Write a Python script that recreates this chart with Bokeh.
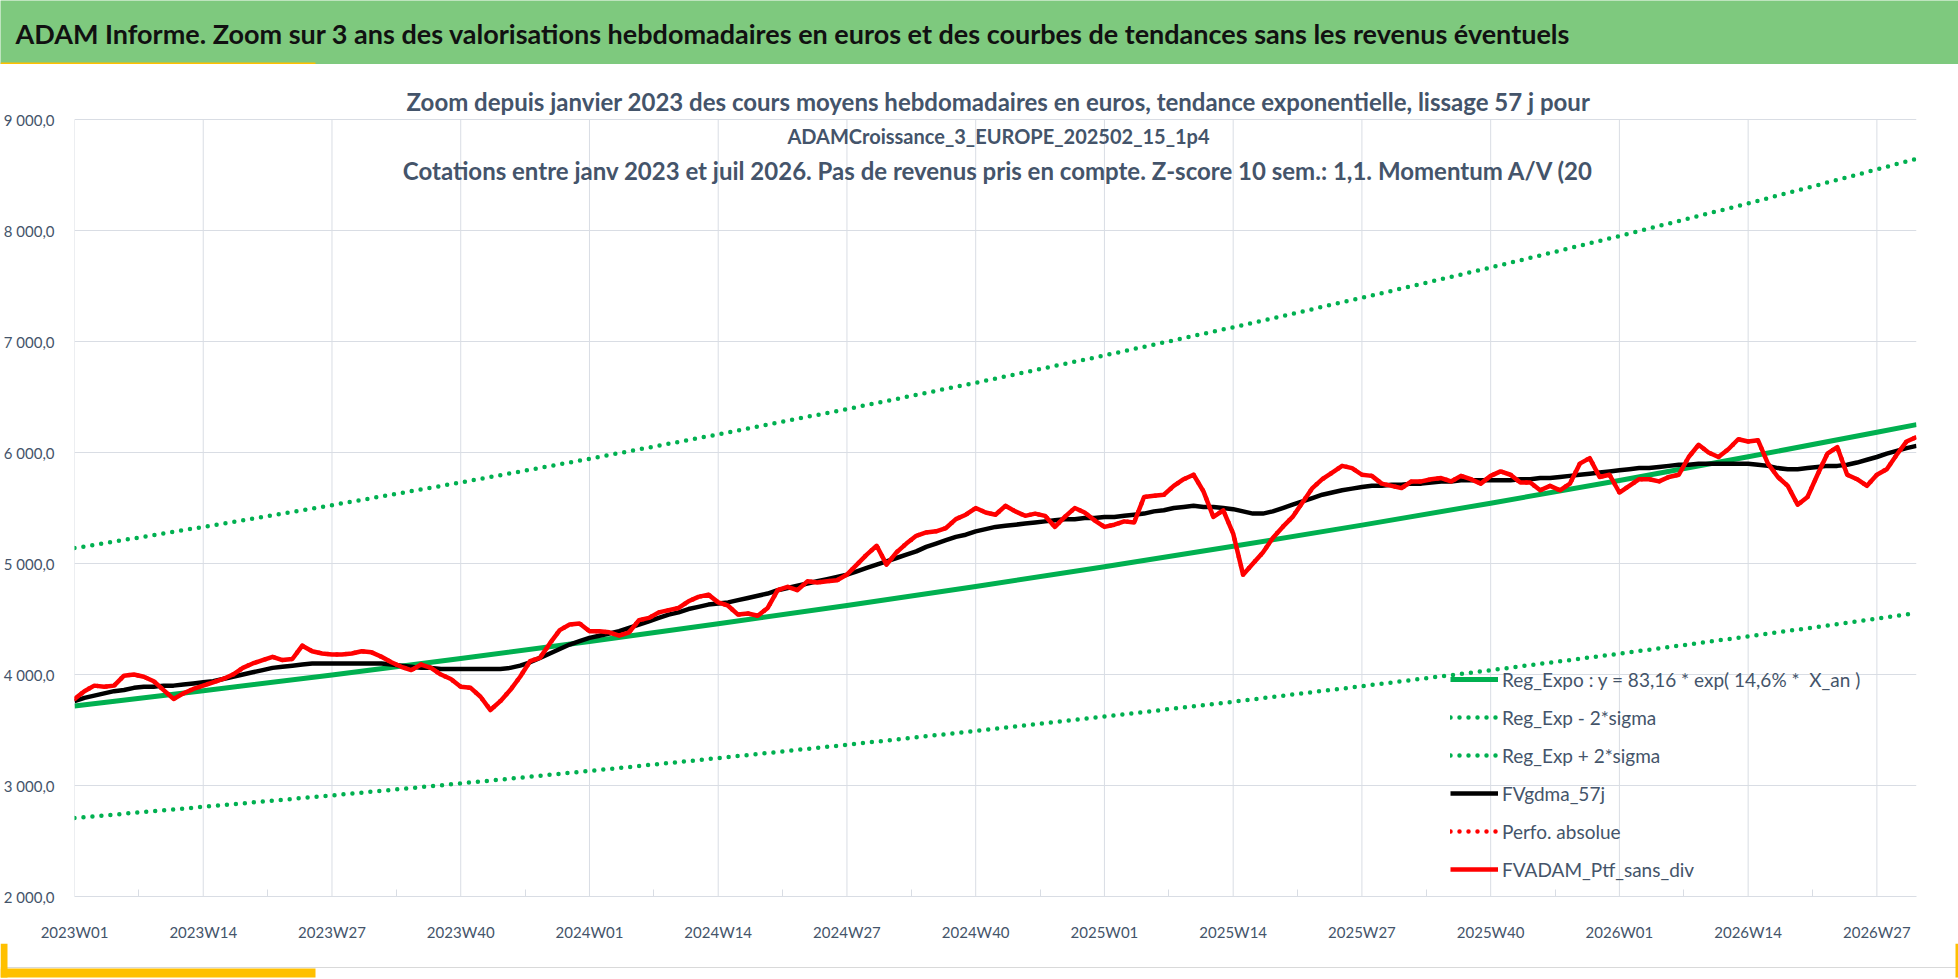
from bokeh.plotting import figure
from bokeh.models import Label, Legend, LegendItem, FixedTicker, Range1d, BoxAnnotation, Span
from bokeh.layouts import column
from bokeh.embed import file_html
from bokeh.resources import INLINE

header_text = ("ADAM Informe. Zoom sur 3 ans des valorisations hebdomadaires en euros "
               "et des courbes de tendances sans les revenus éventuels")
title_lines = [
    "Zoom depuis janvier 2023 des cours moyens hebdomadaires en euros, tendance exponentielle, lissage 57 j pour",
    "ADAMCroissance_3_EUROPE_202502_15_1p4",
    "Cotations entre janv 2023 et juil 2026. Pas de revenus pris en compte. Z-score 10 sem.: 1,1. Momentum A/V (20",
]

# categories : weekly labels
years_weeks = [(2023, 52), (2024, 52), (2025, 52), (2026, 31)]
weeks = [f"{y}W{w:02d}" for y, n in years_weeks for w in range(1, n + 1)]

tick_labels = ["2023W01", "2023W14", "2023W27", "2023W40", "2024W01", "2024W14", "2024W27",
               "2024W40", "2025W01", "2025W14", "2025W27", "2025W40", "2026W01", "2026W14", "2026W27"]
y_ticks = [2000, 3000, 4000, 5000, 6000, 7000, 8000, 9000]
y_tick_labels = ["2 000,0", "3 000,0", "4 000,0", "5 000,0", "6 000,0", "7 000,0", "8 000,0", "9 000,0"]

# trend curves read at the labelled weeks and at the last week
trend_weeks = tick_labels + ["2026W31"]
reg_expo = [3716, 3854, 3996, 4144, 4298, 4457, 4622, 4793, 4971, 5155, 5346, 5544, 5749, 5962, 6183, 6252]
reg_plus = [5139, 5330, 5526, 5731, 5944, 6164, 6392, 6629, 6875, 7129, 7394, 7667, 7951, 8245, 8551, 8647]
reg_minus = [2707, 2808, 2911, 3019, 3131, 3247, 3367, 3492, 3621, 3755, 3895, 4039, 4188, 4343, 4504, 4555]

fv_ptf = [
    3780, 3850, 3900, 3890, 3900, 3990, 4000, 3980, 3940, 3860,
    3780, 3830, 3870, 3900, 3930, 3960, 4000, 4060, 4100, 4130,
    4160, 4130, 4140, 4260, 4210, 4190, 4180, 4180, 4190, 4210,
    4200, 4160, 4110, 4070, 4040, 4090, 4060, 4000, 3960, 3890,
    3880, 3800, 3680, 3760, 3860, 3980, 4120, 4150, 4280, 4400,
    4450, 4460, 4390, 4390, 4380, 4350, 4380, 4490, 4510, 4560,
    4580, 4600, 4660, 4700, 4720, 4650, 4620, 4540, 4550, 4530,
    4600, 4760, 4790, 4760, 4840, 4830, 4840, 4850, 4900, 4990,
    5080, 5160, 4990, 5100, 5180, 5250, 5280, 5290, 5320, 5400,
    5440, 5500, 5460, 5440, 5520, 5470, 5430, 5450, 5430, 5330,
    5420, 5500, 5460, 5390, 5330, 5350, 5380, 5370, 5600, 5610,
    5620, 5700, 5760, 5800, 5650, 5420, 5480, 5270, 4900, 5000,
    5100, 5230, 5330, 5420, 5550, 5680, 5760, 5820, 5880, 5860,
    5800, 5790, 5720, 5700, 5680, 5740, 5740, 5760, 5770, 5740,
    5790, 5760, 5720, 5790, 5830, 5800, 5730, 5730, 5660, 5700,
    5660, 5720, 5900, 5950, 5780, 5800, 5640, 5700, 5760, 5760,
    5740, 5780, 5800, 5960, 6070, 6000, 5960, 6030, 6120, 6100,
    6110, 5900, 5780, 5700, 5530, 5600, 5800, 5990, 6050, 5800,
    5760, 5700, 5800, 5850, 5980, 6100, 6140,
]
fv_gdma = [
    3760, 3790, 3810, 3830, 3850, 3860, 3880, 3890, 3890, 3900,
    3900, 3910, 3920, 3930, 3940, 3960, 3980, 4000, 4020, 4040,
    4060, 4070, 4080, 4090, 4100, 4100, 4100, 4100, 4100, 4100,
    4100, 4100, 4090, 4080, 4070, 4060, 4060, 4050, 4050, 4050,
    4050, 4050, 4050, 4050, 4060, 4080, 4110, 4150, 4190, 4230,
    4270, 4300, 4330, 4350, 4370, 4390, 4420, 4450, 4480, 4510,
    4540, 4560, 4590, 4610, 4630, 4640, 4650, 4670, 4690, 4710,
    4730, 4760, 4780, 4800, 4820, 4840, 4860, 4880, 4900, 4930,
    4960, 4990, 5020, 5050, 5080, 5110, 5150, 5180, 5210, 5240,
    5260, 5290, 5310, 5330, 5340, 5350, 5360, 5370, 5380, 5390,
    5400, 5400, 5410, 5410, 5420, 5420, 5430, 5440, 5450, 5470,
    5480, 5500, 5510, 5520, 5510, 5510, 5500, 5490, 5470, 5450,
    5450, 5470, 5500, 5530, 5560, 5590, 5620, 5640, 5660, 5675,
    5690, 5700, 5700, 5710, 5710, 5720, 5720, 5730, 5740, 5740,
    5750, 5750, 5750, 5750, 5750, 5750, 5760, 5760, 5770, 5770,
    5780, 5790, 5800, 5810, 5820, 5830, 5840, 5850, 5860, 5860,
    5870, 5880, 5890, 5890, 5900, 5900, 5900, 5900, 5900, 5900,
    5890, 5880, 5860, 5850, 5850, 5860, 5870, 5880, 5880, 5890,
    5910, 5935, 5960, 5990, 6015, 6040, 6060,
]

legend_labels = ["Reg_Expo : y = 83,16 * exp( 14,6% *  X_an )", "Reg_Exp - 2*sigma", "Reg_Exp + 2*sigma",
                 "FVgdma_57j", "Perfo. absolue", "FVADAM_Ptf_sans_div"]

GREEN = "#00B050"
RED = "#FF0000"
TXT = "#44546A"
GRID = "#D9DDE4"
HEAD = "#7EC97E"
GOLD = "#FFC000"
FONT = "Lato"

n = min(len(fv_ptf), len(fv_gdma), len(weeks))
xi = list(range(n))
tx = [weeks.index(w) for w in trend_weeks]
major = [weeks.index(w) for w in tick_labels]
minor = [(a + b) / 2 for a, b in zip(major[:-1], major[1:])] + [major[-1] + 6.5]

W = 1958
HH = 64          # header band
FH = 36          # footer strip
MH = 979 - HH - FH


def blank(height):
    f = figure(width=W, height=height, x_range=Range1d(0, W), y_range=Range1d(0, height),
               output_backend="svg", toolbar_location=None, min_border=0,
               x_axis_location=None, y_axis_location=None)
    f.outline_line_color = None
    f.grid.visible = False
    return f


# ---------- header band ----------
h = blank(HH)
h.background_fill_color = HEAD
h.border_fill_color = HEAD
h.add_layout(BoxAnnotation(left=0, right=315, bottom=0, top=2, fill_color=GOLD, fill_alpha=1,
                           line_color=None))
h.add_layout(Label(x=15, y=31, text=header_text, text_baseline="middle", text_font=FONT,
                   text_font_style="bold", text_font_size="27px", text_color="#111111"))

# ---------- main chart ----------
# the frame is extended above the 9000 line so that the title block stays inside it
y_top = 9496.5
p = figure(width=W, height=MH, x_range=Range1d(0, n - 1), y_range=Range1d(2000, y_top),
           output_backend="svg", toolbar_location=None,
           min_border_left=74, min_border_right=42, min_border_top=0, min_border_bottom=41)
p.outline_line_color = None
p.background_fill_color = "white"
p.border_fill_color = "white"

# ---------- footer strip ----------
f = blank(FH)
f.background_fill_color = "white"
f.border_fill_color = "white"
f.add_layout(Span(location=12, dimension="width", line_color="#D9D9D9", line_width=1))
f.add_layout(BoxAnnotation(left=0, right=315, bottom=2, top=11, fill_color=GOLD, fill_alpha=1,
                           line_color=None))
f.add_layout(BoxAnnotation(left=0, right=7, bottom=2, top=FH, fill_color=GOLD, fill_alpha=1,
                           line_color=None))
f.add_layout(BoxAnnotation(left=W - 3, right=W, bottom=2, top=FH, fill_color=GOLD, fill_alpha=1,
                           line_color=None))

for fig in (h, p, f):
    try:
        fig.frame_align = False
    except Exception:
        pass

p.xaxis.ticker = FixedTicker(ticks=major, minor_ticks=minor)
p.xaxis.major_label_overrides = {m: l for m, l in zip(major, tick_labels)}
p.xgrid.visible = False
p.yaxis.ticker = FixedTicker(ticks=y_ticks)
p.yaxis.major_label_overrides = {t: l for t, l in zip(y_ticks, y_tick_labels)}
for ax in (p.xaxis[0], p.yaxis[0]):
    ax.major_label_text_font = FONT
    ax.major_label_text_font_size = "15px"
    ax.major_label_text_color = TXT
    ax.major_tick_line_color = None
ax = p.xaxis[0]
ax.axis_line_color = GRID
ax.minor_tick_line_color = GRID
ax.minor_tick_in = 7
ax.minor_tick_out = 0
ax.major_label_standoff = 20
ay = p.yaxis[0]
ay.axis_line_color = None
ay.minor_tick_line_color = None
ay.major_label_standoff = 14
p.ygrid.grid_line_color = GRID

# vertical gridlines, limited to the value axis extent
p.segment(x0=major, x1=major, y0=[y_ticks[0]] * len(major), y1=[y_ticks[-1]] * len(major),
          line_color=GRID, line_width=1)

r_reg = p.line(tx, reg_expo, line_color=GREEN, line_width=5, line_join="round")
r_minus = p.line(tx, reg_minus, line_color=GREEN, line_width=4.5, line_dash="0 9", line_cap="round")
r_plus = p.line(tx, reg_plus, line_color=GREEN, line_width=4.5, line_dash="0 9", line_cap="round")
r_gdma = p.line(xi, fv_gdma[:n], line_color="black", line_width=4.5, line_join="round")
r_perf = p.line(xi, fv_ptf[:n], line_color=RED, line_width=4.5, line_dash="0 9", line_cap="round")
r_ptf = p.line(xi, fv_ptf[:n], line_color=RED, line_width=4.5, line_join="round")

items = [LegendItem(label=l, renderers=[r]) for l, r in
         zip(legend_labels, [r_reg, r_minus, r_plus, r_gdma, r_perf, r_ptf])]
legend = Legend(items=items, location=(1376, 15), orientation="vertical",
                background_fill_alpha=0, border_line_color=None, padding=0, margin=0,
                spacing=14, glyph_height=24, glyph_width=48, label_height=24, label_standoff=4,
                label_text_font=FONT, label_text_font_size="19px", label_text_color=TXT)
p.add_layout(legend)

title_y = [9165, 8852, 8539]
title_sizes = ["24px", "20px", "24px"]
for t, yy, fs in zip(title_lines, title_y, title_sizes):
    p.add_layout(Label(x=93.3, y=yy, text=t, text_align="center", text_baseline="middle",
                       text_font=FONT, text_font_style="bold", text_font_size=fs,
                       text_color=TXT))

layout = column(h, p, f, spacing=0)
open("out.html", "w").write(file_html(layout, INLINE))
